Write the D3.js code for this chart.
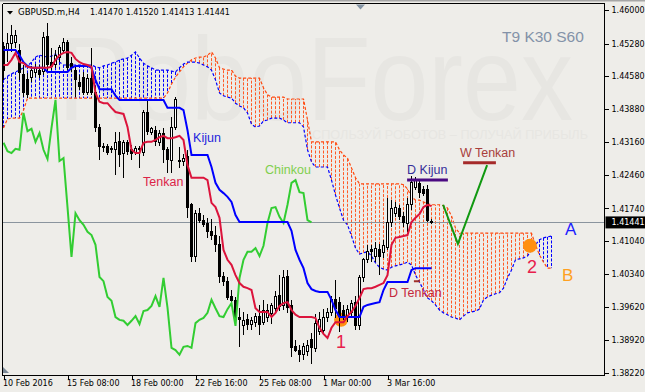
<!DOCTYPE html>
<html>
<head>
<meta charset="utf-8">
<script src="https://cdn.jsdelivr.net/npm/d3@7"></script>
<style>
  body { margin: 0; background: #eeede9; }
  svg { display: block; }
</style>
</head>
<body>
<div id="chart"></div>
<script>
// GBPUSD H4 ICHIMOKU CHART

// 1. Data
// Candles, bar 0 = 10 Feb 16:00 ... bar 107 = 7 Mar 12:00
var openP = [1.4521,1.4514,1.4529,1.4531,1.4514,1.4461,1.4450,1.4456,1.4465,1.4471,
  1.4467,1.4544,1.4488,1.4482,1.4497,1.4514,1.4531,1.4486,1.4471,1.4445,
  1.4456,1.4424,1.4454,1.4424,1.4347,1.4306,1.4306,1.4300,1.4300,1.4317,
  1.4293,1.4315,1.4300,1.4295,1.4302,1.4295,1.4379,1.4338,1.4342,1.4315,
  1.4336,1.4300,1.4278,1.4347,1.4278,1.4274,1.4285,1.4182,1.4070,1.4164,
  1.4149,1.4141,1.4124,1.4117,1.4096,1.4027,1.4018,1.3986,1.3976,1.3941,
  1.3922,1.3935,1.3924,1.3930,1.3943,1.3930,1.3939,1.3948,1.3960,1.3988,
  1.3965,1.4027,1.3965,1.3877,1.3870,1.3860,1.3866,1.3892,1.3873,1.3909,
  1.3913,1.3939,1.3950,1.3978,1.3973,1.3956,1.3939,1.3950,1.3973,1.3922,
  1.4025,1.4064,1.4085,1.4072,1.4085,1.4079,1.4091,1.4143,1.4164,1.4175,
  1.4156,1.4141,1.4182,1.4220,1.4227,1.4214,1.4214,1.41470];
var highP = [1.4531,1.4551,1.4568,1.4557,1.4527,1.4482,1.4465,1.4480,1.4484,1.4482,
  1.4553,1.4572,1.4519,1.4514,1.4525,1.4540,1.4536,1.4499,1.4480,1.4461,
  1.4467,1.4463,1.4519,1.4437,1.4355,1.4315,1.4313,1.4308,1.4338,1.4338,
  1.4321,1.4321,1.4310,1.4308,1.4308,1.4385,1.4407,1.4349,1.4351,1.4342,
  1.4347,1.4306,1.4370,1.4413,1.4306,1.4291,1.4300,1.4186,1.4171,1.4175,
  1.4160,1.4154,1.4151,1.4137,1.4115,1.4038,1.4027,1.3999,1.3984,1.3960,
  1.3952,1.3948,1.3941,1.3950,1.3967,1.3978,1.3969,1.3971,1.3997,1.4031,
  1.4042,1.4042,1.3978,1.3892,1.3881,1.3886,1.3892,1.3907,1.3948,1.3952,
  1.3958,1.3960,1.3986,1.4021,1.3984,1.3967,1.3967,1.3978,1.3986,1.4031,
  1.4068,1.4096,1.4096,1.4102,1.4098,1.4106,1.4197,1.4192,1.4188,1.4182,
  1.4167,1.4197,1.4244,1.4242,1.4235,1.4222,1.4224,1.41520];
var lowP = [1.4450,1.4488,1.4510,1.4519,1.4450,1.4413,1.4411,1.4445,1.4456,1.4454,
  1.4461,1.4467,1.4471,1.4476,1.4488,1.4510,1.4471,1.4467,1.4413,1.4428,
  1.4418,1.4418,1.4418,1.4338,1.4278,1.4295,1.4289,1.4293,1.4246,1.4263,
  1.4240,1.4289,1.4278,1.4289,1.4261,1.4287,1.4332,1.4332,1.4308,1.4308,
  1.4272,1.4250,1.4250,1.4342,1.4261,1.4265,1.4154,1.4059,1.4059,1.4143,
  1.4134,1.4111,1.4106,1.4081,1.4014,1.4008,1.3978,1.3967,1.3922,1.3877,
  1.3903,1.3913,1.3913,1.3920,1.3903,1.3924,1.3930,1.3926,1.3952,1.3954,
  1.3956,1.3950,1.3855,1.3866,1.3845,1.3849,1.3857,1.3840,1.3866,1.3903,
  1.3903,1.3930,1.3943,1.3939,1.3909,1.3935,1.3930,1.3941,1.3913,1.3913,
  1.4016,1.4057,1.4059,1.4059,1.4031,1.4068,1.4085,1.4134,1.4156,1.4149,
  1.4134,1.4124,1.4171,1.4214,1.4197,1.4201,1.4145,1.41413];
var closeP = [1.4471,1.4529,1.4546,1.4546,1.4465,1.4422,1.4418,1.4471,1.4476,1.4461,
  1.4542,1.4482,1.4478,1.4503,1.4519,1.4531,1.4476,1.4476,1.4450,1.4435,
  1.4424,1.4454,1.4424,1.4347,1.4306,1.4304,1.4295,1.4302,1.4315,1.4289,
  1.4315,1.4297,1.4293,1.4302,1.4300,1.4379,1.4340,1.4345,1.4317,1.4336,
  1.4300,1.4280,1.4347,1.4407,1.4276,1.4282,1.4177,1.4070,1.4164,1.4149,
  1.4139,1.4124,1.4117,1.4096,1.4027,1.4018,1.3984,1.3976,1.3941,1.3935,
  1.3933,1.3924,1.3933,1.3943,1.3926,1.3954,1.3956,1.3965,1.3986,1.3963,
  1.4025,1.3961,1.3875,1.3870,1.3860,1.3877,1.3879,1.3875,1.3928,1.3935,
  1.3939,1.3950,1.3978,1.3960,1.3943,1.3941,1.3958,1.3971,1.3922,1.4025,
  1.4064,1.4081,1.4081,1.4089,1.4072,1.4094,1.4143,1.4175,1.4177,1.4156,
  1.4143,1.4182,1.4229,1.4235,1.4209,1.4207,1.4149,1.41441];

// Ichimoku lines (T9 K30 S60), one value per bar
var tenkan = [1.4482,1.4482,1.4493,1.4508,1.4488,1.4486,1.4478,1.4476,1.4476,1.4476,
  1.4476,1.4476,1.4478,1.4493,1.4503,1.4508,1.4510,1.4508,1.4495,1.4488,
  1.4484,1.4482,1.4478,1.4422,1.4403,1.4400,1.4400,1.4390,1.4381,1.4379,
  1.4377,1.4349,1.4300,1.4293,1.4293,1.4315,1.4317,1.4317,1.4321,1.4327,
  1.4330,1.4325,1.4325,1.4327,1.4330,1.4321,1.4267,1.4240,1.4240,1.4240,
  1.4240,1.4235,1.4186,1.4177,1.4154,1.4085,1.4064,1.4053,1.4031,1.4014,
  1.4006,1.4003,1.3999,1.3960,1.3952,1.3952,1.3952,1.3941,1.3950,1.3965,
  1.3971,1.3973,1.3956,1.3946,1.3941,1.3941,1.3941,1.3941,1.3939,1.3918,
  1.3905,1.3896,1.3918,1.3930,1.3930,1.3930,1.3943,1.3952,1.3965,1.3982,
  1.4001,1.4003,1.4003,1.4006,1.4010,1.4014,1.4031,1.4096,1.4111,1.4113,
  1.4115,1.4117,1.4145,1.4154,1.4162,1.4177,1.4182,1.4179];
var kijun = [1.4514,1.4514,1.4514,1.4514,1.4503,1.4488,1.4480,1.4476,1.4476,1.4476,
  1.4476,1.4467,1.4467,1.4467,1.4467,1.4467,1.4467,1.4476,1.4480,1.4480,
  1.4480,1.4480,1.4476,1.4450,1.4430,1.4430,1.4430,1.4430,1.4416,1.4407,
  1.4407,1.4407,1.4407,1.4407,1.4407,1.4407,1.4407,1.4407,1.4407,1.4407,
  1.4407,1.4390,1.4390,1.4390,1.4390,1.4385,1.4342,1.4289,1.4289,1.4289,
  1.4289,1.4289,1.4263,1.4229,1.4214,1.4207,1.4199,1.4188,1.4160,1.4145,
  1.4145,1.4145,1.4145,1.4145,1.4145,1.4145,1.4145,1.4145,1.4145,1.4145,
  1.4145,1.4145,1.4126,1.4085,1.4064,1.4046,1.4014,1.4001,1.3997,1.3995,
  1.3995,1.3995,1.3978,1.3956,1.3941,1.3941,1.3941,1.3941,1.3941,1.3941,
  1.3963,1.3967,1.3969,1.3971,1.3973,1.3999,1.4016,1.4016,1.4016,1.4016,
  1.4016,1.4016,1.4042,1.4046,1.4046,1.4046,1.4046,1.4046];
// Senkou spans, already shifted 30 bars forward (bars 0..137)
var spanA = [1.4450,1.4458,1.4463,1.4467,1.4471,1.4476,1.4480,1.4488,1.4499,1.4503,
  1.4501,1.4499,1.4501,1.4506,1.4488,1.4482,1.4482,1.4482,1.4482,1.4482,
  1.4482,1.4482,1.4482,1.4478,1.4476,1.4480,1.4482,1.4486,1.4488,1.4493,
  1.4495,1.4497,1.4503,1.4510,1.4497,1.4486,1.4480,1.4476,1.4471,1.4471,
  1.4471,1.4471,1.4469,1.4467,1.4476,1.4484,1.4488,1.4488,1.4488,1.4486,
  1.4482,1.4478,1.4471,1.4450,1.4422,1.4416,1.4413,1.4411,1.4400,1.4394,
  1.4390,1.4379,1.4355,1.4349,1.4351,1.4362,1.4364,1.4368,1.4368,1.4368,
  1.4364,1.4358,1.4358,1.4358,1.4358,1.4349,1.4300,1.4274,1.4263,1.4263,
  1.4263,1.4263,1.4235,1.4203,1.4175,1.4149,1.4139,1.4115,1.4089,1.4076,
  1.4079,1.4081,1.4072,1.4057,1.4048,1.4044,1.4042,1.4048,1.4051,1.4053,
  1.4055,1.4059,1.4053,1.4031,1.4016,1.3999,1.3982,1.3976,1.3967,1.3956,
  1.3950,1.3946,1.3941,1.3939,1.3935,1.3943,1.3950,1.3952,1.3954,1.3958,
  1.3978,1.3984,1.3988,1.3991,1.3993,1.4003,1.4025,1.4042,1.4064,1.4066,
  1.4068,1.4072,1.4085,1.4096,1.4107,1.4111,1.4113,1.4115];
var spanB = [1.4347,1.4366,1.4368,1.4368,1.4368,1.4385,1.4411,1.4411,1.4411,1.4411,
  1.4411,1.4411,1.4411,1.4411,1.4411,1.4411,1.4411,1.4411,1.4411,1.4411,
  1.4411,1.4411,1.4411,1.4411,1.4411,1.4411,1.4411,1.4411,1.4411,1.4411,
  1.4411,1.4411,1.4411,1.4411,1.4411,1.4411,1.4411,1.4411,1.4411,1.4411,
  1.4411,1.4422,1.4441,1.4456,1.4467,1.4478,1.4486,1.4493,1.4497,1.4499,
  1.4499,1.4503,1.4510,1.4497,1.4476,1.4473,1.4471,1.4471,1.4458,1.4454,
  1.4454,1.4454,1.4454,1.4454,1.4454,1.4433,1.4418,1.4413,1.4413,1.4413,
  1.4413,1.4409,1.4409,1.4409,1.4409,1.4409,1.4364,1.4317,1.4317,1.4317,
  1.4317,1.4317,1.4317,1.4317,1.4300,1.4289,1.4282,1.4261,1.4240,1.4227,
  1.4227,1.4227,1.4227,1.4227,1.4227,1.4227,1.4227,1.4227,1.4227,1.4227,
  1.4225,1.4216,1.4199,1.4192,1.4192,1.4188,1.4184,1.4182,1.4182,1.4182,
  1.4180,1.4175,1.4158,1.4132,1.4121,1.4121,1.4121,1.4121,1.4121,1.4121,
  1.4121,1.4121,1.4121,1.4121,1.4121,1.4121,1.4121,1.4121,1.4121,1.4121,
  1.4121,1.4121,1.4121,1.4096,1.4074,1.4059,1.4046,1.4046];
var chinkouShift = 30;

// Axis ticks
var priceTicks = [1.46000, 1.45280, 1.44580, 1.43880, 1.43160, 1.42460,
  1.41740, 1.41040, 1.40340, 1.39620, 1.38920, 1.38220];
var timeTickBars = [0, 16, 32, 48, 64, 80, 96];
var timeTickLabels = ["10 Feb 2016", "15 Feb 08:00", "18 Feb 00:00", "22 Feb 16:00",
  "25 Feb 08:00", "1 Mar 00:00", "3 Mar 16:00"];

// 2. Set up the SVG area
var svgWidth = 645;
var svgHeight = 392;
var plotLeft = 3, plotTop = 4, plotRight = 604.5, plotBottom = 375.5;

var svg = d3.select("#chart").append("svg")
  .attr("width", svgWidth)
  .attr("height", svgHeight);

svg.append("rect")
  .attr("width", svgWidth)
  .attr("height", svgHeight)
  .attr("fill", "#eeede9");

// bar index -> x, price -> y
var xScale = d3.scaleLinear().domain([0, 150]).range([3.5, 603.5]);
var yScale = d3.scaleLinear().domain([1.3822, 1.4600]).range([372.5, 10]);

svg.append("clipPath").attr("id", "plotClip")
  .append("rect")
  .attr("x", plotLeft).attr("y", plotTop)
  .attr("width", plotRight - plotLeft).attr("height", plotBottom - plotTop);

var chartGroup = svg.append("g").attr("clip-path", "url(#plotClip)");

// Watermark (very faint)
chartGroup.append("text")
  .attr("x", 58).attr("y", 120)
  .attr("font-family", "Liberation Sans, Arial, sans-serif")
  .attr("font-size", 118)
  .attr("fill", "#e7e6e2")
  .attr("textLength", 515)
  .attr("lengthAdjust", "spacingAndGlyphs")
  .text("RoboForex");
chartGroup.append("text")
  .attr("x", 303).attr("y", 139)
  .attr("font-family", "Liberation Sans, Arial, sans-serif")
  .attr("font-size", 13)
  .attr("fill", "#e7e6e2")
  .attr("textLength", 285)
  .attr("lengthAdjust", "spacingAndGlyphs")
  .text("ИСПОЛЬЗУЙ РОБОТОВ – ПОЛУЧАЙ ПРИБЫЛЬ");

// 3. Kumo cloud: dotted hatch per bar, then the two span lines
var blueDot = "#0000ff";
var orangeDot = "#ff5a26";

chartGroup.append("g")
  .selectAll("line")
  .data(spanA)
  .enter()
  .append("line")
  .attr("x1", (d, i) => xScale(i))
  .attr("x2", (d, i) => xScale(i))
  .attr("y1", d => yScale(d))
  .attr("y2", (d, i) => yScale(spanB[i]))
  .attr("stroke", (d, i) => d >= spanB[i] ? blueDot : orangeDot)
  .attr("stroke-width", 1)
  .attr("stroke-dasharray", "3,1.5");

var barLine = d3.line()
  .x((d, i) => xScale(i))
  .y(d => yScale(d));

chartGroup.append("path")
  .attr("d", barLine(spanB))
  .attr("fill", "none")
  .attr("stroke", "#ff4a10")
  .attr("stroke-width", 1.2)
  .attr("stroke-dasharray", "3,2");

chartGroup.append("path")
  .attr("d", barLine(spanA))
  .attr("fill", "none")
  .attr("stroke", blueDot)
  .attr("stroke-width", 1.2)
  .attr("stroke-dasharray", "3,2");

// Orange markers (1 and 2)
var markerBars = [84.4, 131.6];
var markerPrices = [1.3935, 1.4094];
chartGroup.selectAll(".marker")
  .data(markerBars)
  .enter()
  .append("circle")
  .attr("cx", d => xScale(d))
  .attr("cy", (d, k) => yScale(markerPrices[k]))
  .attr("r", 7)
  .attr("fill", "#ff9010");

// Current price line
var lastClose = closeP[closeP.length - 1];
chartGroup.append("line")
  .attr("x1", plotLeft).attr("x2", plotRight)
  .attr("y1", yScale(lastClose)).attr("y2", yScale(lastClose))
  .attr("stroke", "#8a949e")
  .attr("stroke-width", 1)
  .attr("shape-rendering", "crispEdges");

// 4. Candles
var candleG = chartGroup.append("g").attr("shape-rendering", "crispEdges");

candleG.selectAll(".wick")
  .data(closeP)
  .enter()
  .append("line")
  .attr("x1", (d, i) => xScale(i))
  .attr("x2", (d, i) => xScale(i))
  .attr("y1", (d, i) => yScale(highP[i]))
  .attr("y2", (d, i) => yScale(lowP[i]))
  .attr("stroke", "#000")
  .attr("stroke-width", 1);

candleG.selectAll(".body")
  .data(closeP)
  .enter()
  .append("rect")
  .attr("x", (d, i) => xScale(i) - 1)
  .attr("width", 2)
  .attr("y", (d, i) => yScale(Math.max(d, openP[i])))
  .attr("height", (d, i) => Math.max(1, Math.abs(yScale(d) - yScale(openP[i]))))
  .attr("fill", (d, i) => d >= openP[i] ? "#ffffff" : "#000000")
  .attr("stroke", "#000")
  .attr("stroke-width", 1);

// 5. Ichimoku lines
chartGroup.append("path")
  .attr("d", barLine(closeP.slice(chinkouShift)))
  .attr("fill", "none")
  .attr("stroke", "#32cd32")
  .attr("stroke-width", 2);

chartGroup.append("path")
  .attr("d", barLine(kijun))
  .attr("fill", "none")
  .attr("stroke", "#0000ff")
  .attr("stroke-width", 2);

chartGroup.append("path")
  .attr("d", barLine(tenkan))
  .attr("fill", "none")
  .attr("stroke", "#dc143c")
  .attr("stroke-width", 2);

// 6. Analyst drawings
// level lines: D Kijun, W Tenkan, D Tenkan
var levels = [
  { from: 100.9, to: 111.1, price: 1.4235, color: "#4b0a82", width: 3 },
  { from: 114.9, to: 123.1, price: 1.4272, color: "#a52a2a", width: 3 },
  { from: 102.6, to: 104.1, price: 1.4018, color: "#a0302a", width: 2 }
];
chartGroup.selectAll(".level")
  .data(levels)
  .enter()
  .append("line")
  .attr("x1", d => xScale(d.from))
  .attr("x2", d => xScale(d.to))
  .attr("y1", d => yScale(d.price))
  .attr("y2", d => yScale(d.price))
  .attr("stroke", d => d.color)
  .attr("stroke-width", d => d.width);

// forecast zig-zag
var forecastBars = [109.9, 113.6, 120.9];
var forecastPrices = [1.4182, 1.4098, 1.4267];
chartGroup.append("path")
  .attr("d", d3.line()
    .x(d => xScale(d))
    .y((d, k) => yScale(forecastPrices[k]))(forecastBars))
  .attr("fill", "none")
  .attr("stroke", "#119911")
  .attr("stroke-width", 2);

var notes = [
  { text: "Kijun", bar: 47.4, price: 1.4317, color: "#2424dc", size: 12.5 },
  { text: "Tenkan", bar: 34.9, price: 1.4222, color: "#dc2448", size: 12.5 },
  { text: "Chinkou", bar: 65.4, price: 1.4248, color: "#80cf4e", size: 12.5 },
  { text: "D Kijun", bar: 100.9, price: 1.4248, color: "#35309a", size: 12.5 },
  { text: "W Tenkan", bar: 114.1, price: 1.4285, color: "#a8403c", size: 12.5 },
  { text: "D Tenkan", bar: 96.4, price: 1.3984, color: "#c4283c", size: 12.5 },
  { text: "A", bar: 140.4, price: 1.4117, color: "#1c1cff", size: 17 },
  { text: "B", bar: 139.6, price: 1.4018, color: "#ffa020", size: 17 },
  { text: "1", bar: 83.1, price: 1.3875, color: "#e8204c", size: 18 },
  { text: "2", bar: 130.9, price: 1.4036, color: "#e8204c", size: 18 }
];
chartGroup.selectAll(".note")
  .data(notes)
  .enter()
  .append("text")
  .attr("x", d => xScale(d.bar))
  .attr("y", d => yScale(d.price))
  .attr("font-family", "Liberation Sans, Arial, sans-serif")
  .attr("font-size", d => d.size)
  .attr("fill", d => d.color)
  .text(d => d.text);

// 7. Frame and scales
var axisFont = "DejaVu Sans, Verdana, sans-serif";

svg.append("rect").attr("x", 0).attr("y", 0).attr("width", svgWidth).attr("height", 1.5)
  .attr("fill", "#a6a6a6");

var frame = svg.append("g").attr("shape-rendering", "crispEdges");
frame.append("line").attr("x1", 2.5).attr("x2", plotRight).attr("y1", 3.5).attr("y2", 3.5)
  .attr("stroke", "#000");
frame.append("line").attr("x1", 2.5).attr("x2", 2.5).attr("y1", 3.5).attr("y2", plotBottom)
  .attr("stroke", "#000");
frame.append("line").attr("x1", plotRight).attr("x2", plotRight).attr("y1", 3.5).attr("y2", plotBottom)
  .attr("stroke", "#000");
frame.append("line").attr("x1", 2.5).attr("x2", plotRight).attr("y1", plotBottom).attr("y2", plotBottom)
  .attr("stroke", "#000");

// price axis
var rightAxis = d3.axisRight(yScale)
  .tickValues(priceTicks)
  .tickFormat(d3.format(".5f"))
  .tickSize(4)
  .tickSizeOuter(0);
var yAxis = svg.append("g")
  .attr("transform", `translate(${plotRight}, 0)`)
  .call(rightAxis);
yAxis.select(".domain").remove();
yAxis.selectAll("line").attr("stroke", "#000").attr("shape-rendering", "crispEdges");
yAxis.selectAll("text")
  .attr("x", 7)
  .attr("font-family", axisFont)
  .attr("font-size", 8)
  .attr("fill", "#000");

// time axis
var bottomAxis = d3.axisBottom(xScale)
  .tickValues(timeTickBars)
  .tickFormat((d, k) => timeTickLabels[k])
  .tickSize(4)
  .tickSizeOuter(0);
var xAxis = svg.append("g")
  .attr("transform", `translate(0, ${plotBottom})`)
  .call(bottomAxis);
xAxis.select(".domain").remove();
xAxis.selectAll("line").attr("stroke", "#000").attr("shape-rendering", "crispEdges");
xAxis.selectAll("text")
  .attr("text-anchor", "start")
  .attr("x", -1)
  .attr("y", 10)
  .attr("dy", 0)
  .attr("font-family", axisFont)
  .attr("font-size", 8)
  .attr("fill", "#000");

// current price tag
var tagY = yScale(lastClose);
svg.append("rect")
  .attr("x", plotRight + 1).attr("y", tagY - 6)
  .attr("width", 40).attr("height", 12)
  .attr("fill", "#000");
svg.append("text")
  .attr("x", plotRight + 7).attr("y", tagY + 3)
  .attr("font-family", axisFont)
  .attr("font-size", 8)
  .attr("fill", "#fff")
  .text(d3.format(".5f")(lastClose));

// title line
svg.append("path")
  .attr("d", "M7,11 L13,11 L10,14.5 Z")
  .attr("fill", "#000");
svg.append("text")
  .attr("x", 18).attr("y", 15)
  .attr("font-family", axisFont)
  .attr("font-size", 8.6)
  .attr("fill", "#000")
  .text("GBPUSD.m,H4");
svg.append("text")
  .attr("x", 90).attr("y", 15)
  .attr("font-family", axisFont)
  .attr("font-size", 8)
  .attr("fill", "#000")
  .text([openP[107], highP[107], lowP[107], lastClose].map(d3.format(".5f")).join(" "));

svg.append("text")
  .attr("x", 502).attr("y", 41.5)
  .attr("font-family", "Liberation Sans, Arial, sans-serif")
  .attr("font-size", 15.5)
  .attr("fill", "#8392a8")
  .text("T9 K30 S60");

// small chart markers (shift arrow, corner)
svg.append("path").attr("d", "M356,4.5 L365,4.5 L360.5,9.5 Z").attr("fill", "#8595a5");
svg.append("path").attr("d", "M3,367 L3,373 L9,373 Z").attr("fill", "#7a8896");
</script>
</body>
</html>
